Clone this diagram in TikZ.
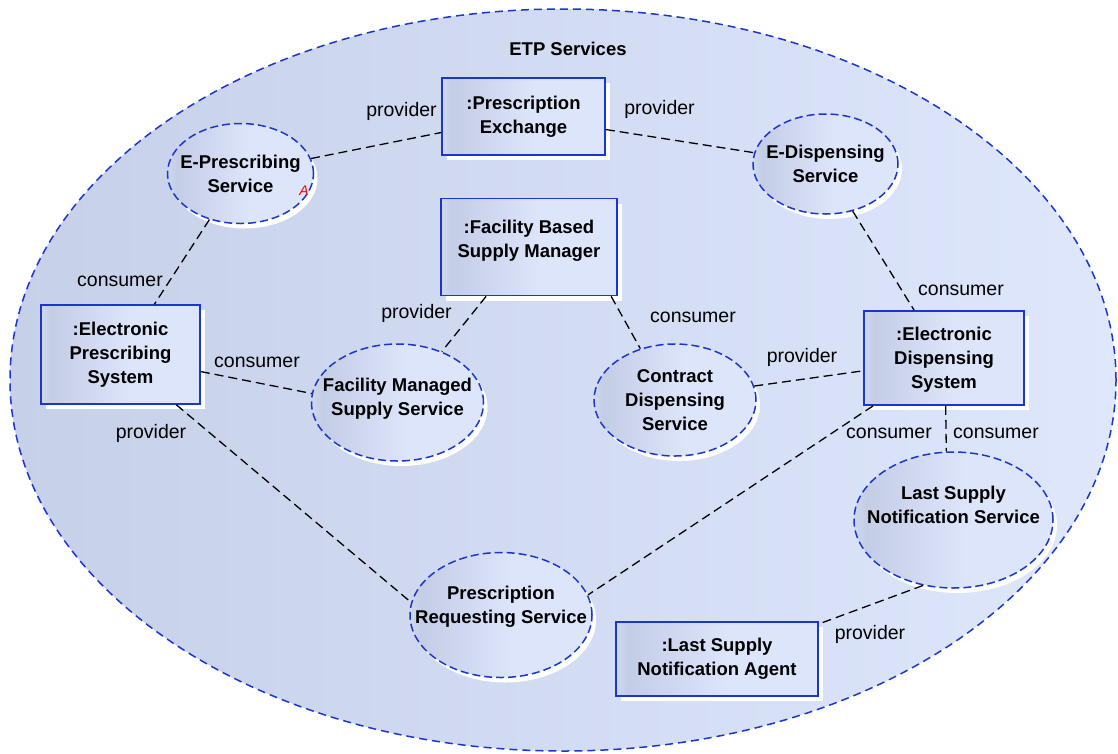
\documentclass[tikz,border=0pt]{standalone}
\usepackage{fontspec}
\setmainfont{Liberation Sans}
\usetikzlibrary{shapes.geometric,shadows}

\definecolor{etpblue}{RGB}{25,55,205}
\definecolor{shadeE}{RGB}{208,216,238}
\definecolor{shadeL}{RGB}{196,205,230}
\definecolor{shadeR}{RGB}{220,229,250}
\definecolor{areaL}{RGB}{198,208,232}
\definecolor{areaR}{RGB}{222,231,252}

% light rim, dark band, then light to the right
\pgfdeclarehorizontalshading{etpshade}{100bp}{color(0bp)=(shadeE); color(25bp)=(shadeE);
  color(28bp)=(shadeL); color(53bp)=(shadeR); color(100bp)=(shadeR)}

\tikzset{
  comp/.style={draw=etpblue, line width=1.7pt, shading=etpshade,
    align=center, inner sep=0pt, font=\fontsize{18.5}{24}\selectfont\bfseries,
    drop shadow={fill=white, opacity=1, shadow xshift=5pt, shadow yshift=-5pt}},
  svc/.style={ellipse, draw=etpblue, line width=1.5pt, dash pattern=on 8pt off 4pt,
    shading=etpshade, align=center, inner xsep=-40pt, inner ysep=0pt,
    font=\fontsize{18.5}{24}\selectfont\bfseries,
    drop shadow={fill=white, opacity=1, shadow xshift=4pt, shadow yshift=-5pt}},
  link/.style={draw=black, line width=1.3pt, dash pattern=on 9pt off 5pt},
  role/.style={font=\fontsize{19.5}{24}\selectfont}
}

\begin{document}
\begin{tikzpicture}[x=1pt, y=-1pt]
  \useasboundingbox (0,0) rectangle (1118,753);
  % service area
  \node[ellipse, draw=etpblue, line width=1.5pt, dash pattern=on 8pt off 5pt,
    left color=areaL, right color=areaR, minimum width=1106pt, minimum height=742pt]
    (etp) at (563,380) {};
  \node[font=\fontsize{18.5}{24}\selectfont\bfseries] (etptitle) at (568,49) {ETP Services};

  % components
  \node[comp, minimum width=163pt, minimum height=77pt] (pe) at (523.5,116.5) {:Prescription\\Exchange};
  \node[comp, minimum width=176pt, minimum height=97pt, text depth=16pt] (fbsm) at (529,247) {:Facility Based\\Supply Manager};
  \node[comp, minimum width=159pt, minimum height=99pt] (eps) at (120.5,354.5) {:Electronic\\Prescribing\\System};
  \node[comp, minimum width=160pt, minimum height=94pt, text depth=-10pt] (eds) at (944,358) {:Electronic\\Dispensing\\System};
  \node[comp, minimum width=202pt, minimum height=74pt] (lsna) at (717,659) {:Last Supply\\Notification Agent};

  % services
  \node[svc, minimum width=146pt, minimum height=100pt] (ep) at (240.5,173.5) {E-Prescribing\\Service};
  \node[svc, minimum width=145pt, minimum height=100pt] (ed) at (825.5,164) {E-Dispensing\\Service};
  \node[svc, minimum width=172pt, minimum height=117pt, text depth=12pt] (fmss) at (397.5,402.5) {Facility Managed\\Supply Service};
  \node[svc, minimum width=162pt, minimum height=112pt, text depth=-18pt] (cds) at (675,400) {Contract\\Dispensing\\Service};
  \node[svc, minimum width=199pt, minimum height=136pt, text depth=30pt] (lsns) at (953.5,520) {Last Supply\\Notification Service};
  \node[svc, minimum width=182pt, minimum height=125pt, text depth=20pt] (prs) at (501,615) {Prescription\\Requesting Service};
  \node[text=red, inner sep=0pt, font=\fontsize{14}{14}\selectfont\itshape] (epmark) at (304,191) {A};

  % connectors
  \draw[link] (ep.12) -- (pe.191);
  \draw[link] (pe.-9) -- (ed.171);
  \draw[link] (ep.236) -- (eps.56);
  \draw[link] (eps.-12) -- (fmss.174);
  \draw[link] (fbsm.229) -- (fmss.49);
  \draw[link] (fbsm.-31) -- (cds.124);
  \draw[link] (cds.10) -- (eds.189);
  \draw[link] (ed.-60) -- (eds.122);
  \draw[link] (eps.-42) -- (prs.172);
  \draw[link] (eds.214) -- (prs.13);
  \draw[link] (eds.-88) -- (lsns.96);
  \draw[link] (lsns.245) -- (lsna.19);

  % roles
  \node[role] (peprov)   at (401.5,111.5) {provider};
  \node[role] (edprov)   at (659.5,109.5) {provider};
  \node[role] (epcons)   at (120,281)     {consumer};
  \node[role] (fmcons)   at (257,362.5)   {consumer};
  \node[role] (prprov)   at (151,433.5)   {provider};
  \node[role] (fmprov)   at (416.5,313)   {provider};
  \node[role] (cdcons)   at (693,317)     {consumer};
  \node[role] (cdprov)   at (802,357.5)   {provider};
  \node[role] (edcons)   at (961,290.5)   {consumer};
  \node[role] (prcons)   at (889,433.5)   {consumer};
  \node[role] (lscons)   at (996,433.5)   {consumer};
  \node[role] (lsprov)   at (870,634)     {provider};
\end{tikzpicture}
\end{document}
